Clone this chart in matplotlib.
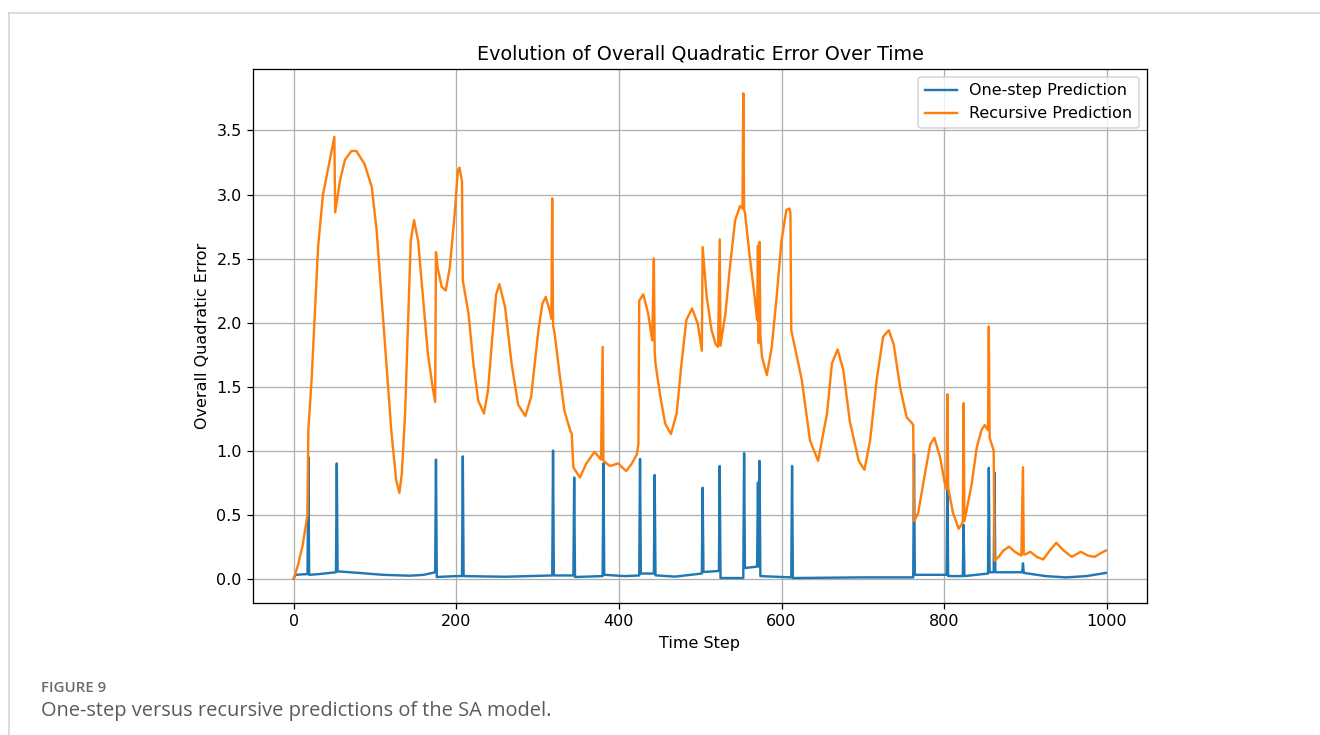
import matplotlib
matplotlib.use("Agg")
import matplotlib.pyplot as plt
from matplotlib.lines import Line2D

# one-step prediction error (time step, error)
onestep_t = [0, 2, 17, 18, 19, 30, 52, 53, 54, 80, 110, 143, 160, 174, 175, 176,
             200, 207, 208, 209, 260, 318, 319, 320, 344, 345, 346, 380, 381, 382,
             407, 425, 426, 427, 443, 444, 445, 469, 502, 503, 504, 523, 524, 525,
             553, 554, 555, 570, 571, 572, 573, 574, 612, 613, 614, 700, 762, 763,
             764, 803, 804, 805, 823, 824, 825, 854, 855, 856, 861, 862, 863, 896,
             897, 898, 925, 950, 975, 999]
onestep_err = [0.0, 0.03, 0.036, 0.95, 0.03, 0.035, 0.05, 0.90, 0.057, 0.045, 0.03,
               0.023, 0.03, 0.05, 0.93, 0.013, 0.02, 0.02, 0.955, 0.02, 0.015, 0.025,
               1.0, 0.025, 0.025, 0.79, 0.013, 0.02, 0.90, 0.03, 0.02, 0.025, 0.935,
               0.04, 0.04, 0.81, 0.026, 0.016, 0.04, 0.71, 0.052, 0.06, 0.88, 0.005,
               0.005, 0.98, 0.083, 0.094, 0.75, 0.095, 0.92, 0.02, 0.01, 0.88, 0.005,
               0.01, 0.01, 0.97, 0.03, 0.03, 0.72, 0.02, 0.02, 0.42, 0.02, 0.04, 0.865,
               0.05, 0.05, 0.83, 0.05, 0.05, 0.12, 0.045, 0.02, 0.01, 0.02, 0.045]

# recursive prediction error (time step, error)
recursive_t = [0, 5, 11, 14, 17, 18, 22, 26, 30, 36, 42, 50, 51, 57, 63, 71, 77, 87,
               96, 102, 108, 114, 120, 126, 130, 133, 137, 141, 144, 148, 153, 159,
               165, 171, 174, 175, 177, 182, 187, 192, 198, 202, 204, 207, 208, 215,
               221, 227, 234, 239, 245, 249, 253, 260, 268, 276, 285, 292, 301, 306,
               310, 315, 317, 318, 319, 321, 327, 333, 340, 342, 344, 352, 360, 370,
               378, 380, 381, 389, 399, 409, 416, 422, 424, 425, 430, 436, 441, 443,
               444, 445, 451, 457, 464, 471, 477, 483, 490, 497, 502, 503, 508, 514,
               519, 522, 524, 525, 531, 537, 543, 549, 552, 553, 554, 555, 561, 567,
               570, 571, 572, 573, 574, 576, 582, 588, 594, 600, 606, 610, 611, 612,
               618, 625, 635, 645, 656, 662, 669, 676, 684, 695, 702, 709, 717, 725,
               732, 738, 746, 754, 761, 762, 763, 768, 777, 783, 788, 795, 801, 803,
               804, 805, 811, 818, 822, 823, 824, 825, 834, 840, 846, 850, 854, 855,
               856, 861, 862, 867, 873, 880, 887, 895, 897, 898, 900, 906, 914, 922,
               930, 938, 947, 957, 968, 977, 985, 993, 999]
recursive_err = [0.0, 0.10, 0.26, 0.38, 0.50, 1.16, 1.55, 2.07, 2.59, 3.0, 3.19, 3.45,
                 2.86, 3.11, 3.27, 3.34, 3.34, 3.24, 3.06, 2.72, 2.2, 1.68, 1.16, 0.77,
                 0.67, 0.82, 1.29, 2.07, 2.64, 2.80, 2.64, 2.2, 1.76, 1.49, 1.38, 2.55,
                 2.43, 2.28, 2.25, 2.43, 2.85, 3.19, 3.21, 3.10, 2.33, 2.07, 1.68, 1.39,
                 1.29, 1.47, 1.94, 2.22, 2.30, 2.12, 1.68, 1.36, 1.27, 1.42, 1.94, 2.15,
                 2.20, 2.09, 2.03, 2.97, 1.98, 1.91, 1.60, 1.31, 1.16, 1.13, 0.87, 0.79,
                 0.90, 0.99, 0.93, 1.81, 0.92, 0.88, 0.90, 0.84, 0.90, 0.97, 1.05, 2.17,
                 2.22, 2.07, 1.86, 2.50, 1.78, 1.68, 1.42, 1.21, 1.13, 1.29, 1.68, 2.02,
                 2.11, 1.99, 1.78, 2.59, 2.20, 1.94, 1.83, 1.81, 2.65, 1.82, 2.07, 2.46,
                 2.80, 2.91, 2.89, 3.79, 2.88, 2.86, 2.51, 2.20, 2.02, 2.60, 1.84, 2.63,
                 1.90, 1.73, 1.59, 1.81, 2.20, 2.64, 2.88, 2.89, 2.85, 1.94, 1.76, 1.55,
                 1.08, 0.92, 1.29, 1.68, 1.79, 1.63, 1.23, 0.92, 0.85, 1.08, 1.55, 1.89,
                 1.94, 1.83, 1.49, 1.26, 1.21, 1.20, 0.45, 0.51, 0.84, 1.05, 1.10, 0.95,
                 0.74, 0.70, 1.44, 0.71, 0.51, 0.39, 0.43, 0.44, 1.37, 0.45, 0.74, 1.02,
                 1.16, 1.20, 1.16, 1.97, 1.10, 1.00, 0.14, 0.17, 0.22, 0.25, 0.21, 0.18,
                 0.87, 0.19, 0.19, 0.21, 0.17, 0.15, 0.22, 0.28, 0.22, 0.17, 0.21, 0.18,
                 0.17, 0.20, 0.22]

fig = plt.figure(figsize=(1320 / 115, 735 / 115), dpi=115)
ax = fig.add_axes([0.1917, 0.1796, 0.6772, 0.7265])

ax.plot(onestep_t, onestep_err, label='One-step Prediction')
ax.plot(recursive_t, recursive_err, label='Recursive Prediction')
ax.set_title('Evolution of Overall Quadratic Error Over Time')
ax.set_xlabel('Time Step')
ax.set_ylabel('Overall Quadratic Error')
ax.set_xlim(-50, 1049.5)
ax.set_ylim(-0.19, 3.98)
ax.legend(loc='upper right')
ax.grid(True)

# page frame and caption
frame_color = '#d4d4d4'
fig.add_artist(Line2D([9 / 1320, 1.0], [1 - 13 / 735, 1 - 13 / 735],
                      transform=fig.transFigure, color=frame_color, lw=1.0))
fig.add_artist(Line2D([9 / 1320, 9 / 1320], [0.0, 1 - 13 / 735],
                      transform=fig.transFigure, color=frame_color, lw=1.0))
fig.text(41 / 1320, 1 - 688 / 735, 'FIGURE 9', family='Open Sans', weight='semibold',
         fontsize=9.4, color='#6b6b6b', va='center')
fig.text(41 / 1320, 1 - 711 / 735, 'One-step versus recursive predictions of the SA model.',
         family='Open Sans', fontsize=12.5, color='#5a5a5a', va='center')

fig.savefig('out.png', dpi=115)
